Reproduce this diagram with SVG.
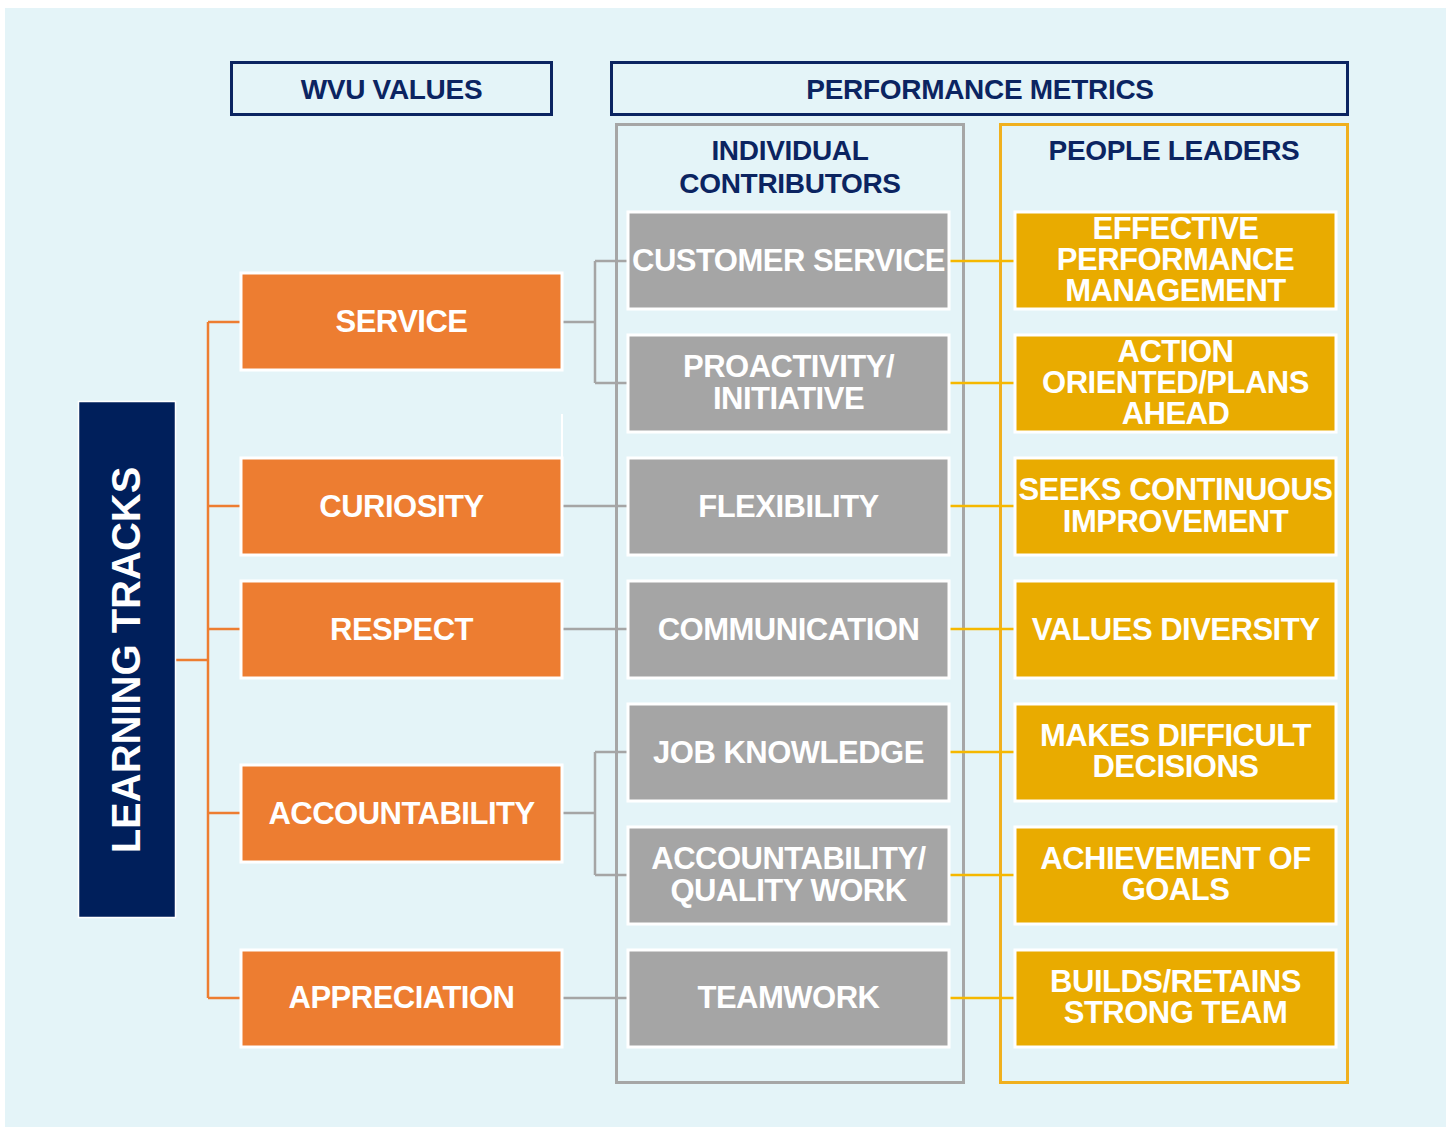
<svg xmlns="http://www.w3.org/2000/svg" width="1452" height="1127" viewBox="0 0 1452 1127">
  <style>
    .hdr { fill: none; stroke: #0b2461; stroke-width: 3; }
    .hdr-t { font-family: "Liberation Sans", Arial, sans-serif; font-weight: bold; font-size: 28px; fill: #0b2461; text-anchor: middle; letter-spacing: -0.3px; }
    .lbl { font-family: "Liberation Sans", Arial, sans-serif; font-weight: bold; font-size: 31px; fill: #ffffff; text-anchor: middle; letter-spacing: -0.5px; }
    .val { fill: #ed7d31; stroke: #ffffff; stroke-width: 3; }
    .ic { fill: #a5a5a5; stroke: #ffffff; stroke-width: 3; }
    .pl { fill: #e9ab00; stroke: #ffffff; stroke-width: 3; }
    .c-or { stroke: #ed7d31; stroke-width: 2.5; fill: none; }
    .c-gr { stroke: #a5a5a5; stroke-width: 2.5; fill: none; }
    .c-go { stroke: #f5b800; stroke-width: 2.5; fill: none; }
  </style>

  <!-- backdrop -->
  <rect x="0" y="0" width="1452" height="1127" fill="#ffffff"/>
  <rect x="5" y="8" width="1441" height="1119" fill="#e4f4f8"/>

  <!-- column headers -->
  <g id="hdr-values">
    <rect class="hdr" x="231.5" y="62.5" width="320" height="52"/>
    <text class="hdr-t" x="391.5" y="99">WVU VALUES</text>
  </g>
  <g id="hdr-metrics">
    <rect class="hdr" x="611.5" y="62.5" width="736" height="52"/>
    <text class="hdr-t" x="980" y="99">PERFORMANCE METRICS</text>
  </g>

  <!-- metric group frames -->
  <g id="grp-individual">
    <rect x="616.5" y="124.5" width="347" height="958" fill="none" stroke="#a6a6a6" stroke-width="3"/>
    <text class="hdr-t" x="790" y="160">INDIVIDUAL</text>
    <text class="hdr-t" x="790" y="193">CONTRIBUTORS</text>
  </g>
  <g id="grp-leaders">
    <rect x="1000.5" y="124.5" width="347" height="958" fill="none" stroke="#f0b01e" stroke-width="3"/>
    <text class="hdr-t" x="1174" y="160">PEOPLE LEADERS</text>
  </g>

  <!-- connectors -->
  <g id="connectors">
    <!-- learning tracks to values -->
    <path class="c-or" d="M175 660 H208 M208 322 V998 M208 322 H241 M208 506 H241 M208 629 H241 M208 813 H241 M208 998 H241"/>
    <!-- values to individual metrics -->
    <path class="c-gr" d="M562 322 H595 M595 261 V383 M595 261 H628 M595 383 H628"/>
    <path class="c-gr" d="M562 506 H628 M562 629 H628 M562 998 H628"/>
    <path class="c-gr" d="M562 813 H595 M595 752 V875 M595 752 H628 M595 875 H628"/>
    <!-- individual to leader metrics -->
    <path class="c-go" d="M949 261 H1015 M949 383 H1015 M949 506 H1015 M949 629 H1015 M949 752 H1015 M949 875 H1015 M949 998 H1015"/>
  </g>

  <!-- learning tracks -->
  <g id="learning-tracks">
    <rect x="78.5" y="401.5" width="97" height="516" fill="#001f5b" stroke="#ffffff" stroke-width="1.5"/>
    <text class="lbl" font-size="40" style="font-size:40px;letter-spacing:0" transform="translate(140 660) rotate(-90)" x="0" y="0">LEARNING TRACKS</text>
  </g>

  <!-- values -->
  <g id="v-service">
    <rect class="val" x="241" y="273" width="321" height="97"/>
    <text class="lbl" x="401.5" y="332">SERVICE</text>
  </g>
  <line x1="562" y1="414" x2="562" y2="458" stroke="#ffffff" stroke-width="2"/>
  <g id="v-curiosity">
    <rect class="val" x="241" y="458" width="321" height="97"/>
    <text class="lbl" x="401.5" y="517">CURIOSITY</text>
  </g>
  <g id="v-respect">
    <rect class="val" x="241" y="581" width="321" height="97"/>
    <text class="lbl" x="401.5" y="640">RESPECT</text>
  </g>
  <g id="v-accountability">
    <rect class="val" x="241" y="765" width="321" height="97"/>
    <text class="lbl" x="401.5" y="824">ACCOUNTABILITY</text>
  </g>
  <g id="v-appreciation">
    <rect class="val" x="241" y="950" width="321" height="97"/>
    <text class="lbl" x="401.5" y="1008">APPRECIATION</text>
  </g>

  <!-- individual contributor metrics -->
  <g id="ic-customer-service">
    <rect class="ic" x="628" y="212" width="321" height="97"/>
    <text class="lbl" x="788.5" y="271">CUSTOMER SERVICE</text>
  </g>
  <g id="ic-proactivity">
    <rect class="ic" x="628" y="335" width="321" height="97"/>
    <text class="lbl" x="788.5" y="377">PROACTIVITY/</text>
    <text class="lbl" x="788.5" y="409">INITIATIVE</text>
  </g>
  <g id="ic-flexibility">
    <rect class="ic" x="628" y="458" width="321" height="97"/>
    <text class="lbl" x="788.5" y="517">FLEXIBILITY</text>
  </g>
  <g id="ic-communication">
    <rect class="ic" x="628" y="581" width="321" height="97"/>
    <text class="lbl" x="788.5" y="640">COMMUNICATION</text>
  </g>
  <g id="ic-job-knowledge">
    <rect class="ic" x="628" y="704" width="321" height="97"/>
    <text class="lbl" x="788.5" y="763">JOB KNOWLEDGE</text>
  </g>
  <g id="ic-accountability">
    <rect class="ic" x="628" y="827" width="321" height="97"/>
    <text class="lbl" x="788.5" y="869">ACCOUNTABILITY/</text>
    <text class="lbl" x="788.5" y="901">QUALITY WORK</text>
  </g>
  <g id="ic-teamwork">
    <rect class="ic" x="628" y="950" width="321" height="97"/>
    <text class="lbl" x="788.5" y="1008">TEAMWORK</text>
  </g>

  <!-- people leader metrics -->
  <g id="pl-performance">
    <rect class="pl" x="1015" y="212" width="321" height="97"/>
    <text class="lbl" x="1175.5" y="239">EFFECTIVE</text>
    <text class="lbl" x="1175.5" y="270">PERFORMANCE</text>
    <text class="lbl" x="1175.5" y="301">MANAGEMENT</text>
  </g>
  <g id="pl-action">
    <rect class="pl" x="1015" y="335" width="321" height="97"/>
    <text class="lbl" x="1175.5" y="362">ACTION</text>
    <text class="lbl" x="1175.5" y="393">ORIENTED/PLANS</text>
    <text class="lbl" x="1175.5" y="424">AHEAD</text>
  </g>
  <g id="pl-improvement">
    <rect class="pl" x="1015" y="458" width="321" height="97"/>
    <text class="lbl" x="1175.5" y="500">SEEKS CONTINUOUS</text>
    <text class="lbl" x="1175.5" y="532">IMPROVEMENT</text>
  </g>
  <g id="pl-diversity">
    <rect class="pl" x="1015" y="581" width="321" height="97"/>
    <text class="lbl" x="1175.5" y="640">VALUES DIVERSITY</text>
  </g>
  <g id="pl-decisions">
    <rect class="pl" x="1015" y="704" width="321" height="97"/>
    <text class="lbl" x="1175.5" y="746">MAKES DIFFICULT</text>
    <text class="lbl" x="1175.5" y="777">DECISIONS</text>
  </g>
  <g id="pl-goals">
    <rect class="pl" x="1015" y="827" width="321" height="97"/>
    <text class="lbl" x="1175.5" y="869">ACHIEVEMENT OF</text>
    <text class="lbl" x="1175.5" y="900">GOALS</text>
  </g>
  <g id="pl-team">
    <rect class="pl" x="1015" y="950" width="321" height="97"/>
    <text class="lbl" x="1175.5" y="992">BUILDS/RETAINS</text>
    <text class="lbl" x="1175.5" y="1023">STRONG TEAM</text>
  </g>
</svg>
